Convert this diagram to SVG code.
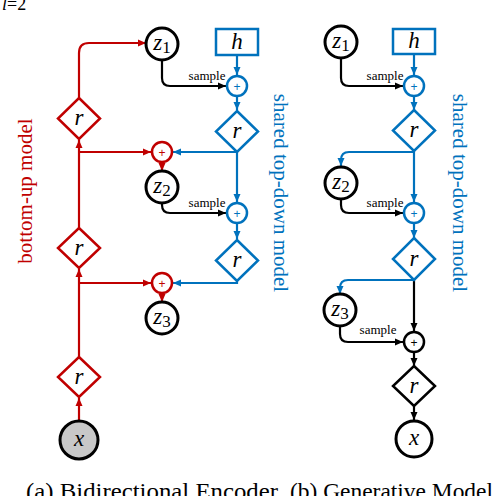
<svg xmlns="http://www.w3.org/2000/svg" width="498" height="496" viewBox="0 0 498 496">
<defs>
<marker id="ar" markerUnits="userSpaceOnUse" markerWidth="9" markerHeight="8" refX="8" refY="4" orient="auto"><path d="M0,0.5 L8,4 L0,7.5 z" fill="#c00000"/></marker>
<marker id="ab" markerUnits="userSpaceOnUse" markerWidth="9" markerHeight="8" refX="8" refY="4" orient="auto"><path d="M0,0.5 L8,4 L0,7.5 z" fill="#0072bd"/></marker>
<marker id="ak" markerUnits="userSpaceOnUse" markerWidth="9" markerHeight="8" refX="8" refY="4" orient="auto"><path d="M0,0.5 L8,4 L0,7.5 z" fill="#000"/></marker>
</defs>
<style>
text{font-family:'Liberation Serif',serif;}
.m{font-style:italic;font-size:23px;text-anchor:middle;}
.sub{font-style:normal;font-size:17px;}
.s{font-size:13px;text-anchor:middle;}
.pl{font-family:'Liberation Sans',sans-serif;font-size:12px;text-anchor:middle;}
.cr{fill:none;stroke:#c00000;stroke-width:2.2;}
.cb{fill:none;stroke:#0072bd;stroke-width:2.2;}
.ck{fill:none;stroke:#000;stroke-width:2.2;}
.nr{fill:#fff;stroke:#c00000;stroke-width:2.5;}
.nb{fill:#fff;stroke:#0072bd;stroke-width:2.5;}
.nk{fill:#fff;stroke:#000;stroke-width:2.5;}
.lat{fill:#fff;stroke:#000;stroke-width:3;}
</style>

<text x="2" y="10" font-size="18"><tspan font-style="italic">l</tspan>=2</text>

<g id="connectors">
<path class="cr" d="M79,98 V53 Q79,43 89,43 H146" marker-end="url(#ar)"/>
<path class="cr" d="M79,421 V398" marker-end="url(#ar)"/>
<path class="cr" d="M79,357 V269" marker-end="url(#ar)"/>
<path class="cr" d="M79,283 H151" marker-end="url(#ar)"/>
<path class="cr" d="M79,228 V140" marker-end="url(#ar)"/>
<path class="cr" d="M79,152 H151" marker-end="url(#ar)"/>
<path class="cr" d="M162,162 V171" marker-end="url(#ar)"/>
<path class="cr" d="M162,293 V302" marker-end="url(#ar)"/>
<path class="cb" d="M237,55 V75" marker-end="url(#ab)"/>
<path class="cb" d="M237,96 V110" marker-end="url(#ab)"/>
<path class="cb" d="M237,152 V202" marker-end="url(#ab)"/>
<path class="cb" d="M237,152 H173" marker-end="url(#ab)"/>
<path class="cb" d="M237,223 V239" marker-end="url(#ab)"/>
<path class="cb" d="M237,281 V283 H173" marker-end="url(#ab)"/>
<path class="ck" d="M162,59 V78 Q162,86 170,86 H226" marker-end="url(#ak)"/>
<path class="ck" d="M162,203 V205 Q162,213 170,213 H226" marker-end="url(#ak)"/>
<path class="ck" d="M341,58 V78 Q341,86 349,86 H403" marker-end="url(#ak)"/>
<path class="ck" d="M341,199 V205 Q341,213 349,213 H403" marker-end="url(#ak)"/>
<path class="ck" d="M340,326 V334 Q340,342 348,342 H403" marker-end="url(#ak)"/>
<path class="ck" d="M414,280 V331" marker-end="url(#ak)"/>
<path class="ck" d="M414,352 V366" marker-end="url(#ak)"/>
<path class="ck" d="M414,406 V420" marker-end="url(#ak)"/>
<path class="cb" d="M414,54 V75" marker-end="url(#ab)"/>
<path class="cb" d="M414,96 V110" marker-end="url(#ab)"/>
<path class="cb" d="M414,151 V202" marker-end="url(#ab)"/>
<path class="cb" d="M414,152 H349 Q341,152 341,160 V166" marker-end="url(#ab)"/>
<path class="cb" d="M414,223 V238" marker-end="url(#ab)"/>
<path class="cb" d="M414,280 H348 Q340,280 340,288 V294" marker-end="url(#ab)"/>
</g>

<text class="s" x="207" y="80">sample</text>
<text class="s" x="207" y="207">sample</text>
<text class="s" x="385" y="80">sample</text>
<text class="s" x="385" y="207">sample</text>
<text class="s" x="378" y="334">sample</text>

<g id="a_z1"><circle class="lat" cx="162" cy="44" r="16"/><text class="m" x="162" y="50">z<tspan class="sub" dy="3">1</tspan></text></g>
<g id="a_h"><rect class="nb" x="216" y="29" width="42" height="26"/><text class="m" x="237" y="49" font-size="21">h</text></g>
<g id="a_p1"><circle class="nb" cx="237" cy="86" r="10"/><text class="pl" x="237" y="90.5" fill="#0072bd">+</text></g>
<g id="a_rb1"><path class="nb" d="M237,111 L258,131.5 L237,152 L216,131.5 z"/><text class="m" x="237" y="138" font-size="21">r</text></g>
<g id="a_rp1"><circle class="nr" cx="162" cy="152" r="10"/><text class="pl" x="162" y="156.5" fill="#c00000">+</text></g>
<g id="a_z2"><circle class="lat" cx="162" cy="187" r="16"/><text class="m" x="162" y="193">z<tspan class="sub" dy="3">2</tspan></text></g>
<g id="a_p2"><circle class="nb" cx="237" cy="213" r="10"/><text class="pl" x="237" y="217.5" fill="#0072bd">+</text></g>
<g id="a_rb2"><path class="nb" d="M237,240 L258,260.5 L237,281 L216,260.5 z"/><text class="m" x="237" y="267" font-size="21">r</text></g>
<g id="a_rp2"><circle class="nr" cx="162" cy="283" r="10"/><text class="pl" x="162" y="287.5" fill="#c00000">+</text></g>
<g id="a_z3"><circle class="lat" cx="162" cy="318" r="16"/><text class="m" x="162" y="324">z<tspan class="sub" dy="3">3</tspan></text></g>
<g id="a_rr1"><path class="nr" d="M79,98 L100,118.5 L79,139 L58,118.5 z"/><text class="m" x="79" y="125" font-size="21">r</text></g>
<g id="a_rr2"><path class="nr" d="M79,228 L100,248 L79,268 L58,248 z"/><text class="m" x="79" y="254.5" font-size="21">r</text></g>
<g id="a_rr3"><path class="nr" d="M79,357 L100,377 L79,397 L58,377 z"/><text class="m" x="79" y="383.5" font-size="21">r</text></g>
<g id="a_x"><circle cx="79" cy="440" r="19" fill="#c8c8c8" stroke="#000" stroke-width="3"/><text class="m" x="79" y="446">x</text></g>

<g id="b_z1"><circle class="lat" cx="341" cy="42" r="16"/><text class="m" x="341" y="48">z<tspan class="sub" dy="3">1</tspan></text></g>
<g id="b_h"><rect class="nb" x="393" y="29" width="42" height="25"/><text class="m" x="414" y="48" font-size="21">h</text></g>
<g id="b_p1"><circle class="nb" cx="414" cy="86" r="10"/><text class="pl" x="414" y="90.5" fill="#0072bd">+</text></g>
<g id="b_r1"><path class="nb" d="M414,110 L435,130.5 L414,151 L393,130.5 z"/><text class="m" x="414" y="137" font-size="21">r</text></g>
<g id="b_z2"><circle class="lat" cx="341" cy="183" r="16"/><text class="m" x="341" y="189">z<tspan class="sub" dy="3">2</tspan></text></g>
<g id="b_p2"><circle class="nb" cx="414" cy="213" r="10"/><text class="pl" x="414" y="217.5" fill="#0072bd">+</text></g>
<g id="b_r2"><path class="nb" d="M414,238 L435,259 L414,280 L393,259 z"/><text class="m" x="414" y="265.5" font-size="21">r</text></g>
<g id="b_z3"><circle class="lat" cx="340" cy="310" r="16"/><text class="m" x="340" y="316">z<tspan class="sub" dy="3">3</tspan></text></g>
<g id="b_p3"><circle class="nk" cx="414" cy="342" r="10"/><text class="pl" x="414" y="346.5" fill="#000">+</text></g>
<g id="b_r3"><path class="nk" d="M414,366 L435,386 L414,406 L393,386 z"/><text class="m" x="414" y="392.5" font-size="21">r</text></g>
<g id="b_x"><circle class="lat" cx="414" cy="439" r="18"/><text class="m" x="414" y="445">x</text></g>

<text font-size="21" fill="#c00000" text-anchor="middle" transform="translate(32,191) rotate(-90)">bottom-up model</text>
<text font-size="21" fill="#0072bd" text-anchor="middle" transform="translate(274,193) rotate(90)">shared top-down model</text>
<text font-size="21" fill="#0072bd" text-anchor="middle" transform="translate(453,193) rotate(90)">shared top-down model</text>

<text font-size="24" x="26" y="499" textLength="252" lengthAdjust="spacingAndGlyphs">(a) Bidirectional Encoder</text>
<text font-size="24" x="290" y="499" textLength="203" lengthAdjust="spacingAndGlyphs">(b) Generative Model</text>
</svg>
